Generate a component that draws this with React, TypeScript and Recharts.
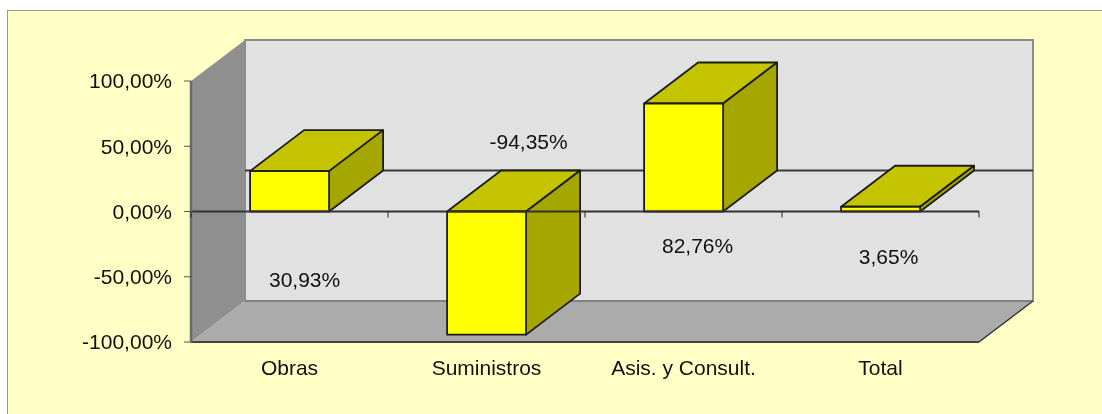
import { BarChart, Bar, XAxis, YAxis, ReferenceLine, LabelList } from "recharts";

const categorias = ["Obras", "Suministros", "Asis. y Consult.", "Total"];
const valores = [30.93, -94.35, 82.76, 3.65];
const marcasY = [-100, -50, 0, 50, 100];

const data = categorias.map((nombre, i) => ({ nombre, valor: valores[i] }));

// plot box, the front plane of the 3D chart
const LEFT = 191;
const RIGHT = 979;
const TOP = 81;
const BOTTOM = 342;
const ZERO = (TOP + BOTTOM) / 2;
const DX = 54;
const DY = -41;
const BAND = (RIGHT - LEFT) / categorias.length;

// where excel dropped each data label, relative to bar centre / zero line
const labelOffset = [
  [15, 68],
  [42, -70],
  [14, 34],
  [8, 45],
];

const FONT = "'Liberation Sans', Arial, sans-serif";
const FONT_SIZE = 21;

const formatPct = (v: number) => v.toFixed(2).replace(".", ",") + "%";

const pts = (list: number[][]) => list.map((p) => p.join(",")).join(" ");

const Walls = () => (
  <g>
    <polygon
      points={pts([
        [LEFT + DX, TOP + DY],
        [RIGHT + DX, TOP + DY],
        [RIGHT + DX, BOTTOM + DY],
        [LEFT + DX, BOTTOM + DY],
      ])}
      fill="#e1e1e1"
      stroke="#8c8c8c"
      strokeWidth={2}
    />
    <polygon
      points={pts([
        [LEFT, TOP],
        [LEFT + DX, TOP + DY],
        [LEFT + DX, BOTTOM + DY],
        [LEFT, BOTTOM],
      ])}
      fill="#8f8f8f"
    />
    <polygon
      points={pts([
        [LEFT, BOTTOM],
        [LEFT + DX, BOTTOM + DY],
        [RIGHT + DX, BOTTOM + DY],
        [RIGHT, BOTTOM],
      ])}
      fill="#ababab"
    />
    <line x1={LEFT + DX} x2={RIGHT + DX} y1={BOTTOM + DY} y2={BOTTOM + DY} stroke="#808080" strokeWidth={2} />
    <line x1={RIGHT} x2={RIGHT + DX} y1={BOTTOM} y2={BOTTOM + DY} stroke="#333" strokeWidth={1.5} />
    <line x1={LEFT} x2={RIGHT} y1={BOTTOM} y2={BOTTOM} stroke="#444" strokeWidth={2} />
    <line x1={LEFT + DX} x2={RIGHT + DX} y1={ZERO + DY} y2={ZERO + DY} stroke="#3a3a3a" strokeWidth={2} />
  </g>
);

const Box3D = (props: any) => {
  const { x, y, width, height } = props;
  const t = Math.min(y, y + height);
  const h = Math.abs(height);
  const edge = { stroke: "#1c1c1c", strokeWidth: 1.8, strokeLinejoin: "round" as const };
  return (
    <g>
      <polygon
        points={pts([
          [x, t],
          [x + DX, t + DY],
          [x + width + DX, t + DY],
          [x + width, t],
        ])}
        fill="#c4c400"
        {...edge}
      />
      <polygon
        points={pts([
          [x + width, t],
          [x + width + DX, t + DY],
          [x + width + DX, t + h + DY],
          [x + width, t + h],
        ])}
        fill="#a6a600"
        {...edge}
      />
      <rect x={x} y={t} width={width} height={h} fill="#ffff00" {...edge} />
    </g>
  );
};

const BarLabel = (props: any) => {
  const { x, width, index, value } = props;
  const [dx, dy] = labelOffset[index];
  return (
    <text
      x={x + width / 2 + dx}
      y={ZERO + dy}
      textAnchor="middle"
      dominantBaseline="central"
      fontFamily={FONT}
      fontSize={FONT_SIZE}
      fill="#111"
    >
      {formatPct(value)}
    </text>
  );
};

// category names sit under the floor, tick marks stay on the zero line
const CategoryTick = (props: any) => {
  const { x, index, payload } = props;
  return (
    <g>
      {index === 0 && <line x1={x - BAND / 2} x2={x - BAND / 2} y1={ZERO} y2={ZERO + 6} stroke="#222" />}
      <line x1={x + BAND / 2} x2={x + BAND / 2} y1={ZERO} y2={ZERO + 6} stroke="#222" />
      <text x={x} y={367} textAnchor="middle" dominantBaseline="central" fontFamily={FONT} fontSize={FONT_SIZE} fill="#111">
        {payload.value}
      </text>
    </g>
  );
};

export default function App() {
  return (
    <div style={{ position: "absolute", left: 0, top: 0, width: 1102, height: 414, overflow: "hidden", background: "#fff" }}>
      <div
        style={{
          position: "absolute",
          left: 7,
          top: 10,
          width: 1102,
          height: 414,
          background: "#ffffc6",
          border: "1.5px solid #9a9a80",
        }}
      />
      <div style={{ position: "absolute", left: 0, top: 0, filter: "blur(0.4px)" }}>
        <BarChart
          width={1102}
          height={414}
          data={data}
          margin={{ top: TOP, right: 1102 - RIGHT, bottom: 42, left: LEFT - 100 }}
          barCategoryGap="30%"
        >
          <Walls />
          <XAxis
            dataKey="nombre"
            height={30}
            axisLine={false}
            tickLine={false}
            interval={0}
            tick={<CategoryTick />}
          />
          <YAxis
            width={100}
            domain={[-100, 100]}
            ticks={marcasY}
            tickFormatter={formatPct}
            tickSize={7}
            tickMargin={12}
            interval={0}
            axisLine={{ stroke: "#6a6a6a", strokeWidth: 2.5 }}
            tickLine={{ stroke: "#555" }}
            tick={{ fontFamily: FONT, fontSize: FONT_SIZE, fill: "#111" }}
          />
          <Bar dataKey="valor" isAnimationActive={false} shape={<Box3D />}>
            <LabelList dataKey="valor" content={<BarLabel />} />
          </Bar>
          <ReferenceLine y={0} stroke="#333" strokeWidth={2} />
        </BarChart>
      </div>
    </div>
  );
}
